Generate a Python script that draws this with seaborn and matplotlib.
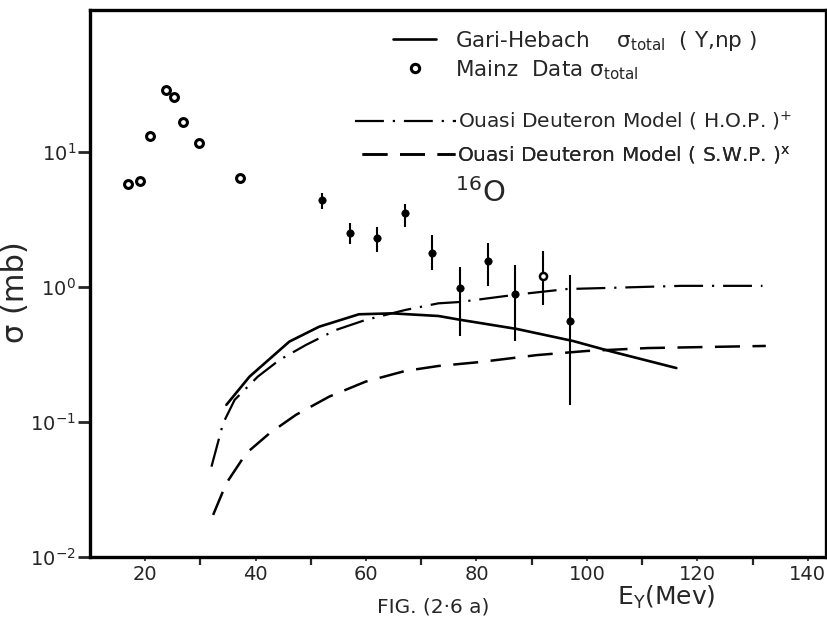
import numpy as np
import pandas as pd
import matplotlib
matplotlib.use("Agg")
import matplotlib.pyplot as plt
import seaborn as sns
from matplotlib.lines import Line2D
from matplotlib.ticker import FixedLocator, NullLocator, LogFormatterMathtext

# ---------------- data ----------------
mainz_open_x = [16.8, 19.0, 20.8, 23.8, 25.3, 26.9, 29.8, 37.2]
mainz_open_y = [5.8, 6.1, 13.1, 28.9, 25.5, 16.7, 11.6, 6.4]

mainz_err_x = [52, 57, 62, 67, 72, 77, 82, 87, 92, 97]
mainz_err_y = [4.41, 2.52, 2.32, 3.53, 1.80, 0.99, 1.57, 0.89, 1.21, 0.56]
mainz_err_lo = [3.80, 2.08, 1.82, 2.80, 1.34, 0.43, 1.02, 0.40, 0.74, 0.133]
mainz_err_hi = [5.00, 2.99, 2.80, 4.12, 2.43, 1.41, 2.11, 1.46, 1.86, 1.23]
mainz_err_hollow = [False, False, False, False, False, False, False, False, True, False]

gari_x = [34.7, 38.9, 46.1, 51.5, 58.7, 64.7, 73.1, 76.9, 87.3, 97.5, 104.3, 116.2]
gari_y = [0.134, 0.217, 0.394, 0.508, 0.628, 0.638, 0.610, 0.573, 0.489, 0.398, 0.334, 0.251]

hop_x = [32.0, 34.1, 36.2, 40.4, 44.3, 49.1, 54.5, 59.9, 67.1, 73.1, 76.9, 87.3, 96.4, 104.4, 117.1, 131.8]
hop_y = [0.0467, 0.0977, 0.146, 0.217, 0.288, 0.372, 0.48, 0.570, 0.676, 0.757, 0.774, 0.879, 0.966, 0.986, 1.02, 1.02]

swp_x = [32.3, 34.7, 38.3, 42.5, 47.3, 53.3, 59.9, 67.1, 73.1, 80.6, 90.9, 100.0, 111.0, 132.4]
swp_y = [0.0205, 0.0352, 0.0587, 0.0824, 0.113, 0.154, 0.199, 0.239, 0.260, 0.278, 0.313, 0.336, 0.353, 0.366]

x_tick_labels = [20, 40, 60, 80, 100, 120, 140]
x_tick_marks = [30, 50, 70, 90, 110, 130]
y_tick_values = [0.01, 0.1, 1, 10]

legend_labels = [
    r"Gari-Hebach    σ$_{\mathrm{total}}$  ( Y,np )",
    r"Mainz  Data σ$_{\mathrm{total}}$",
    r"Ouasi Deuteron Model ( H.O.P. )$^{+}$",
    r"Ouasi Deuteron Model ( S.W.P. )$^{x}$",
]

# ---------------- figure ----------------
sns.set_theme(style="white")
plt.rcParams["font.family"] = ["DejaVu Sans"]
plt.rcParams["mathtext.default"] = "regular"

W, H = 828, 624
fig = plt.figure(figsize=(W / 100, H / 100), dpi=100)
ax_l, ax_r, ax_t, ax_b = 90, 826, 10, 557
ax = fig.add_axes([ax_l / W, 1 - ax_b / H, (ax_r - ax_l) / W, (ax_b - ax_t) / H])

HOP_DASH = [13, 4, 1, 4]
SWP_DASH = [10, 5]

gari = pd.DataFrame({"E": gari_x, "s": gari_y})
hop = pd.DataFrame({"E": hop_x, "s": hop_y})
swp = pd.DataFrame({"E": swp_x, "s": swp_y})

sns.lineplot(data=gari, x="E", y="s", ax=ax, color="black", lw=1.9, sort=False)
sns.lineplot(data=hop, x="E", y="s", ax=ax, color="black", lw=1.6, sort=False)
ax.lines[-1].set_dashes(HOP_DASH)
sns.lineplot(data=swp, x="E", y="s", ax=ax, color="black", lw=1.8, sort=False)
ax.lines[-1].set_dashes(SWP_DASH)

sns.scatterplot(x=mainz_open_x, y=mainz_open_y, ax=ax, marker="o", s=32,
                facecolor="white", edgecolor="black", linewidth=2.2)

err = pd.DataFrame({"E": mainz_err_x, "s": mainz_err_y, "lo": mainz_err_lo,
                    "hi": mainz_err_hi, "hollow": mainz_err_hollow})
ax.errorbar(err["E"], err["s"], yerr=[err["s"] - err["lo"], err["hi"] - err["s"]],
            fmt="none", ecolor="black", elinewidth=1.5, capsize=0)
filled = err[~err["hollow"]]
hollow = err[err["hollow"]]
sns.scatterplot(data=filled, x="E", y="s", ax=ax, marker="o", s=28,
                color="black", edgecolor="black", linewidth=0.5)
sns.scatterplot(data=hollow, x="E", y="s", ax=ax, marker="o", s=26,
                facecolor="white", edgecolor="black", linewidth=1.8, zorder=5)

ax.set_yscale("log")
ax.set_xlim(10, 143.3)
ax.set_ylim(0.01, 10 ** 2.052)

ax.yaxis.set_major_locator(FixedLocator(y_tick_values))
ax.yaxis.set_major_formatter(LogFormatterMathtext())
ax.yaxis.set_minor_locator(NullLocator())
ax.tick_params(axis="y", which="major", direction="out", length=9, width=2,
               labelsize=14, left=True, pad=1)

ax.xaxis.set_major_locator(FixedLocator(x_tick_labels))
ax.xaxis.set_minor_locator(FixedLocator(x_tick_marks))
ax.tick_params(axis="x", which="major", direction="out", length=3, width=1.2,
               labelsize=14, pad=3, bottom=True)
ax.tick_params(axis="x", which="minor", direction="out", length=6, width=1.6,
               bottom=True)

for sp in ax.spines.values():
    sp.set_linewidth(2.4)
    sp.set_color("black")

ax.set_xlabel("")
ax.set_ylabel("σ (mb)", fontsize=22)
ax.yaxis.set_label_coords((30 - ax_l) / (ax_r - ax_l), (ax_b - 292) / (ax_b - ax_t))

fig.text(617 / W, 1 - 597 / H, r"$E_{Y}$(Mev)", fontsize=18, ha="left", va="center")
fig.text(377 / W, 1 - 607 / H, "FIG. (2·6 a)", fontsize=14.5, ha="left", va="center")

# legend: one row per entry, placed like the reference
rows = [
    (Line2D([], [], color="black", lw=1.9), legend_labels[0], 393, 40, 2.0, 0.9, 15.5),
    (Line2D([], [], color="black", lw=0, marker="o", markersize=6,
            markerfacecolor="white", markeredgewidth=2.2),
     legend_labels[1], 393, 69, 2.0, 0.9, 15.5),
    (Line2D([], [], color="black", lw=1.6, dashes=HOP_DASH), legend_labels[2], 355, 121, 5.0, 0.1, 14.5),
    (Line2D([], [], color="black", lw=1.8, dashes=SWP_DASH), legend_labels[3], 362, 155, 4.6, 0.1, 14.5),
]
for h, lab, x0, y0, hl, pad, fs in rows:
    leg = ax.legend([h], [lab], loc="upper left",
                    bbox_to_anchor=(x0 / W, 1 - (y0 - 11) / H),
                    bbox_transform=fig.transFigure, frameon=False, fontsize=fs,
                    handlelength=hl, handletextpad=pad, borderpad=0,
                    borderaxespad=0)
    ax.add_artist(leg)

fig.text(455 / W, 1 - 193 / H, r"$^{16}$O", fontsize=21, ha="left", va="center")

fig.savefig("out.png", dpi=100)
